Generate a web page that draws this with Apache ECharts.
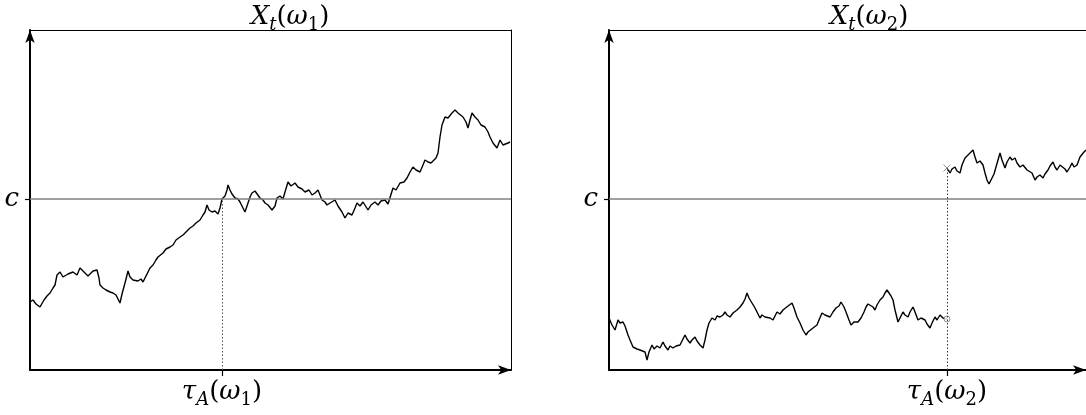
<!DOCTYPE html>
<html>
<head>
<meta charset="utf-8">
<script src="https://cdn.jsdelivr.net/npm/echarts@6/dist/echarts.min.js"></script>
<style>html,body{margin:0;padding:0;background:#fff}#c{width:1086px;height:415px}</style>
</head>
<body>
<div id="c"></div>
<script>
// ---- data (time steps t, level X) ----
const levelC = 171;
const tau1 = 192;
const tau2 = 338;
const tMax1 = 481;
const tMax2 = 477;
const xMax = 340;

const path1 = [[0,68],[3,70],[6,66],[10,63],[14,70],[17,74],[20,77],[23,82],[25,85],[27,95],[30,98],[33,93],[35,92],[38,96],[40,94],[43,98],[47,95],[50,102],[53,99],[55,97],[58,94],[60,95],[63,99],[65,97],[67,100],[69,92],[70,85],[73,82],[76,80],[80,78],[83,77],[86,75],[88,71],[90,67],[92,76],[95,87],[97,95],[98,99],[100,93],[103,90],[105,88],[108,89],[111,91],[113,88],[115,92],[118,98],[120,102],[123,105],[126,110],[128,113],[130,115],[133,117],[136,121],[138,120],[140,123],[143,125],[146,130],[148,129],[150,133],[153,135],[156,138],[158,140],[160,142],[163,144],[166,147],[168,146],[170,150],[173,155],[175,158],[177,165],[179,160],[182,158],[185,159],[188,156],[190,162],[192,171],[195,174],[197,180],[198,185],[200,180],[202,176],[205,172],[208,171],[210,168],[213,162],[215,158],[218,167],[220,173],[222,177],[225,179],[227,177],[230,172],[233,170],[235,167],[238,165],[242,160],[245,164],[247,172],[250,174],[253,171],[255,178],[258,188],[261,184],[265,187],[268,183],[272,181],[275,178],[279,180],[282,175],[285,177],[288,180],[292,170],[295,168],[297,165],[300,167],[305,170],[308,164],[312,158],[315,152],[318,157],[322,155],[325,162],[327,167],[330,164],[333,168],[335,170],[338,160],[341,165],[345,168],[348,165],[351,169],[355,170],[358,166],[360,167],[363,182],[366,180],[370,187],[374,188],[377,192],[380,198],[383,203],[386,200],[390,198],[393,205],[395,210],[398,208],[401,207],[403,208],[406,212],[408,217],[410,233],[412,245],[415,253],[418,252],[422,257],[425,260],[428,257],[430,258],[433,253],[436,248],[438,242],[440,250],[442,257],[445,253],[448,250],[451,245],[455,243],[458,238],[460,233],[463,227],[465,225],[467,222],[470,230],[473,225],[475,223],[478,227],[480,228]];

const path2a = [[0,52],[1,50],[3,45],[6,40],[9,50],[11,47],[14,48],[16,44],[19,35],[21,30],[24,23],[26,25],[28,21],[31,20],[33,22],[36,18],[38,10],[40,18],[43,25],[45,21],[48,24],[51,22],[54,28],[56,24],[59,20],[61,24],[64,22],[67,24],[71,25],[73,29],[76,35],[78,31],[81,27],[83,30],[86,33],[88,29],[91,25],[94,22],[96,30],[98,40],[100,47],[103,52],[106,50],[108,54],[111,53],[114,55],[116,58],[118,55],[121,53],[124,57],[126,55],[128,60],[131,63],[134,67],[136,71],[138,77],[140,72],[143,67],[146,62],[148,58],[151,52],[153,55],[156,53],[158,55],[161,52],[164,50],[166,54],[168,58],[171,56],[174,60],[176,62],[179,64],[181,63],[183,67],[185,62],[188,53],[191,47],[194,40],[197,35],[199,38],[201,40],[204,42],[208,45],[210,50],[213,57],[216,55],[218,53],[221,53],[224,58],[227,62],[230,64],[232,68],[235,63],[237,58],[240,50],[242,45],[245,48],[249,48],[252,52],[255,58],[257,63],[259,66],[261,68],[264,63],[266,60],[268,65],[271,70],[274,73],[276,77],[278,80],[280,77],[282,74],[284,70],[286,60],[289,48],[291,52],[294,58],[296,55],[299,53],[301,58],[304,63],[306,58],[309,50],[312,52],[316,50],[318,46],[321,42],[323,47],[326,53],[328,50],[331,55],[334,52],[336,51],[338,51]];

const path2b = [[338,202],[341,197],[343,201],[346,203],[348,199],[351,197],[353,205],[356,212],[358,214],[361,217],[364,220],[366,213],[368,207],[371,209],[374,205],[376,197],[378,190],[380,186],[382,187],[385,196],[387,203],[389,210],[391,217],[393,210],[396,202],[398,208],[401,213],[403,210],[406,212],[408,207],[411,203],[414,205],[418,200],[420,202],[423,197],[426,190],[428,193],[431,195],[434,192],[436,196],[439,200],[441,204],[444,208],[446,203],[448,200],[451,205],[453,207],[456,201],[458,198],[461,203],[463,207],[465,203],[468,205],[471,213],[473,215],[475,218],[477,220]];

const stopMark = [[338,51]];
const jumpMark = [[338,202]];

const titleLabels = ['{i|X}{s|t}{n|(}{i|ω}{sn|1}{n|)}', '{i|X}{s|t}{n|(}{i|ω}{sn|2}{n|)}'];
const tauLabels = ['{i|τ}{s|A}{n|(}{i|ω}{sn|1}{n|)}', '{i|τ}{s|A}{n|(}{i|ω}{sn|2}{n|)}'];
const cLabel = '{i|c}';

// ---- styles ----
const FONT = 'DejaVu Serif';
const rich = {
  i: {fontFamily: FONT, fontStyle: 'italic', fontWeight: 'normal', fontSize: 26, color: '#000', lineHeight: 34},
  n: {fontFamily: FONT, fontStyle: 'normal', fontWeight: 'normal', fontSize: 26, color: '#000', lineHeight: 34},
  s: {fontFamily: FONT, fontStyle: 'italic', fontWeight: 'normal', fontSize: 18, color: '#000', lineHeight: 20, verticalAlign: 'bottom'},
  sn: {fontFamily: FONT, fontStyle: 'normal', fontWeight: 'normal', fontSize: 18, color: '#000', lineHeight: 20, verticalAlign: 'bottom'}
};

function panelAxes(g, tMax, tau, label, withRight) {
  const x = [
    {gridIndex: g, type: 'value', min: 0, max: tMax, position: 'bottom',
     axisLine: {show: true, onZero: false, symbol: ['none', 'arrow'], symbolSize: [7, 13], lineStyle: {color: '#000', width: 2}},
     axisTick: {show: true, customValues: [tau], length: 6, lineStyle: {color: '#000', width: 1.2}},
     axisLabel: {show: true, customValues: [tau], margin: 5, fontFamily: FONT, formatter: () => label, rich: rich},
     splitLine: {show: false}},
    {gridIndex: g, type: 'value', min: 0, max: tMax, position: 'top',
     axisLine: {show: true, onZero: false, lineStyle: {color: '#000', width: 1}},
     axisTick: {show: false}, axisLabel: {show: false}, splitLine: {show: false}}
  ];
  const y = [
    {gridIndex: g, type: 'value', min: 0, max: xMax, position: 'left',
     axisLine: {show: true, onZero: false, symbol: ['none', 'arrow'], symbolSize: [7, 13], lineStyle: {color: '#000', width: 2}},
     axisTick: {show: true, customValues: [levelC], length: 5, lineStyle: {color: '#000', width: 1.2}},
     axisLabel: {show: true, customValues: [levelC], margin: 11, fontFamily: FONT, formatter: () => cLabel, rich: rich},
     splitLine: {show: false}},
    {gridIndex: g, type: 'value', min: 0, max: xMax, position: 'right',
     axisLine: {show: withRight, onZero: false, lineStyle: {color: '#000', width: 1}},
     axisTick: {show: false}, axisLabel: {show: false}, splitLine: {show: false}}
  ];
  return {x, y};
}

const a1 = panelAxes(0, tMax1, tau1, tauLabels[0], true);
const a2 = panelAxes(1, tMax2, tau2, tauLabels[1], false);

const pathStyle = {color: '#000', width: 1.4};

const option = {
  animation: false,
  backgroundColor: '#fff',
  textStyle: {fontFamily: FONT},
  title: [
    {text: titleLabels[0], left: 285, top: -5, textAlign: 'center', textStyle: {fontFamily: FONT, fontWeight: 'normal', rich: rich}},
    {text: titleLabels[1], left: 864, top: -5, textAlign: 'center', textStyle: {fontFamily: FONT, fontWeight: 'normal', rich: rich}}
  ],
  grid: [
    {left: 30, top: 30, width: tMax1, height: xMax},
    {left: 609, top: 30, width: tMax2, height: xMax}
  ],
  xAxis: [...a1.x, ...a2.x],
  yAxis: [...a1.y, ...a2.y],
  series: [
    {type: 'line', xAxisIndex: 0, yAxisIndex: 0, data: [], z: 1,
     markLine: {silent: true, symbol: 'none', label: {show: false},
       data: [
         {yAxis: levelC, lineStyle: {color: '#808080', width: 1.5, type: 'solid'}},
         [{coord: [tau1, 0], lineStyle: {color: '#555', width: 1, type: [1.5, 2]}}, {coord: [tau1, levelC - 2]}]
       ]}},
    {type: 'line', xAxisIndex: 2, yAxisIndex: 2, data: [], z: 1,
     markLine: {silent: true, symbol: 'none', label: {show: false},
       data: [
         {yAxis: levelC, lineStyle: {color: '#808080', width: 1.5, type: 'solid'}},
         [{coord: [tau2, 0], lineStyle: {color: '#333', width: 1, type: [1.5, 2]}}, {coord: [tau2, jumpMark[0][1] - 2]}]
       ]}},
    {type: 'line', xAxisIndex: 0, yAxisIndex: 0, data: path1, showSymbol: false, lineStyle: pathStyle, z: 3},
    {type: 'line', xAxisIndex: 2, yAxisIndex: 2, data: path2a, showSymbol: false, lineStyle: pathStyle, z: 3},
    {type: 'line', xAxisIndex: 2, yAxisIndex: 2, data: path2b, showSymbol: false, lineStyle: pathStyle, z: 3},
    {type: 'scatter', xAxisIndex: 2, yAxisIndex: 2, data: stopMark, symbol: 'circle', symbolSize: 6,
     itemStyle: {color: '#fff', borderColor: '#777', borderWidth: 1}, z: 4},
    {type: 'scatter', xAxisIndex: 2, yAxisIndex: 2, data: jumpMark, symbol: 'path://M0,0L10,10M10,0L0,10', symbolSize: 7,
     itemStyle: {color: 'none', borderColor: '#777', borderWidth: 1}, z: 4}
  ]
};

const chart = echarts.init(document.getElementById('c'), null, {renderer: 'canvas'});
chart.setOption(option);
</script>
</body>
</html>
